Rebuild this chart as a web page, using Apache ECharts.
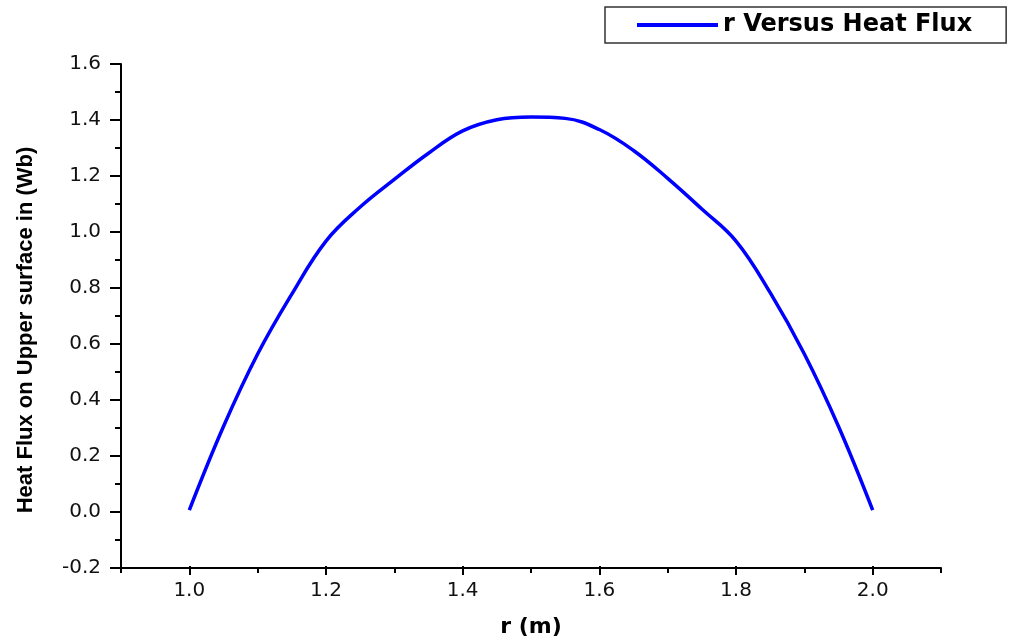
<!DOCTYPE html>
<html>
<head>
<meta charset="utf-8">
<script src="https://cdn.jsdelivr.net/npm/echarts@6/dist/echarts.min.js"></script>
<style>
  html, body { margin: 0; padding: 0; background: #fff; }
  #chart { width: 1009px; height: 643px; }
</style>
</head>
<body>
<div id="chart"></div>
<script>
// r (m) vs heat flux
const rValues = [1.00, 1.05, 1.10, 1.15, 1.20, 1.25, 1.30, 1.35, 1.40, 1.45, 1.50,
                 1.55, 1.60, 1.65, 1.70, 1.75, 1.80, 1.85, 1.90, 1.95, 2.00];
const heatFlux = [0.00, 0.30, 0.56, 0.775, 0.965, 1.087, 1.186, 1.28, 1.36, 1.40, 1.41,
                  1.405, 1.365, 1.29, 1.19, 1.08, 0.965, 0.78, 0.56, 0.30, 0.00];
const seriesName = 'r Versus Heat Flux';
const xName = 'r (m)';
const yName = 'Heat Flux on Upper surface in (Wb)';

const chart = echarts.init(document.getElementById('chart'));

const points = rValues.map((r, i) => [r, heatFlux[i]]);
const axisBlack = { color: '#000', width: 2 };
const tickFont = { fontFamily: 'DejaVu Sans', fontSize: 20, color: '#111' };

const option = {
    backgroundColor: '#ffffff',
    animation: false,
    legend: {
        left: 605, top: 7,
        padding: [6, 34, 6, 32],
        borderColor: '#333', borderWidth: 1.5,
        icon: 'rect',
        itemWidth: 81, itemHeight: 4,
        textStyle: { fontFamily: 'DejaVu Sans', fontWeight: 'bold', fontSize: 24, color: '#000' },
        data: [seriesName]
    },
    grid: [
        // full axis frame 0.9 .. 2.1
        { left: 121, right: 68, top: 64, bottom: 75 },
        // 1.0 .. 2.0 part, carries the major x ticks
        { left: 189.3, right: 136.3, top: 64, bottom: 75 }
    ],
    xAxis: [
        {
            gridIndex: 0, type: 'value', min: 0.9, max: 2.1, interval: 0.1,
            axisLine: { show: true, onZero: false, lineStyle: axisBlack },
            axisTick: { show: true, length: 5, lineStyle: axisBlack },
            axisLabel: { show: false },
            splitLine: { show: false }
        },
        {
            gridIndex: 1, type: 'value', min: 1.0, max: 2.0, interval: 0.2,
            name: xName, nameLocation: 'middle', nameGap: 50,
            nameTextStyle: { fontFamily: 'DejaVu Sans', fontWeight: 'bold', fontSize: 22, color: '#000' },
            axisLine: { show: false, onZero: false },
            axisTick: { show: true, length: 9, lineStyle: axisBlack },
            axisLabel: Object.assign({ margin: 15, formatter: v => v.toFixed(1) }, tickFont),
            splitLine: { show: false }
        }
    ],
    yAxis: [
        {
            gridIndex: 0, type: 'value', min: -0.2, max: 1.6, interval: 0.2,
            name: yName, nameLocation: 'middle', nameGap: 84,
            nameTextStyle: { fontFamily: 'Liberation Sans', fontWeight: 'bold', fontSize: 22, color: '#000', padding: [0, 28, 0, 0] },
            axisLine: { show: true, onZero: false, lineStyle: axisBlack },
            axisTick: { show: true, length: 11, lineStyle: axisBlack },
            minorTick: { show: true, splitNumber: 2, length: 6, lineStyle: axisBlack },
            axisLabel: Object.assign({ margin: 20, formatter: v => v.toFixed(1) }, tickFont),
            splitLine: { show: false }
        },
        {
            gridIndex: 1, type: 'value', min: -0.2, max: 1.6, interval: 0.2, show: false
        }
    ],
    series: [
        {
            name: seriesName, type: 'line',
            xAxisIndex: 1, yAxisIndex: 1,
            data: points,
            smooth: 0.4,
            symbol: 'none',
            lineStyle: { color: '#0000ff', width: 3.5 },
            itemStyle: { color: '#0000ff' }
        }
    ]
};

chart.setOption(option);
</script>
</body>
</html>
